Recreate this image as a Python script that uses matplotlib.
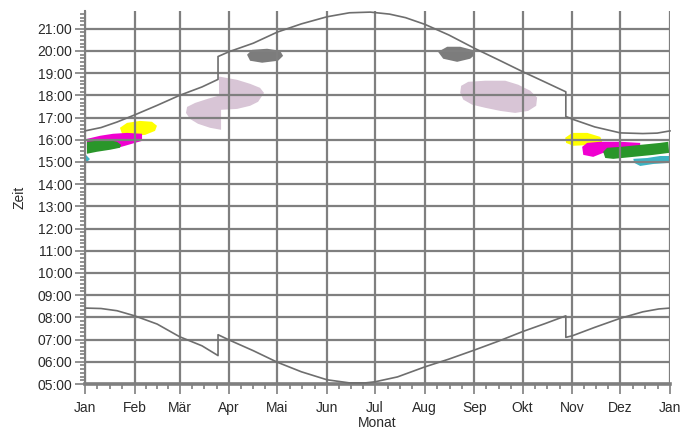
import matplotlib
matplotlib.use("Agg")
import numpy as np
import matplotlib.pyplot as plt
from matplotlib.patches import Polygon

plt.rcParams['font.family'] = ['Liberation Sans', 'DejaVu Sans']

# month starts (day of year) and labels
month_days = [0, 31, 59, 90, 120, 151, 181, 212, 243, 273, 304, 334, 365]
month_labels = ['Jan', 'Feb', 'Mär', 'Apr', 'Mai', 'Jun', 'Jul', 'Aug', 'Sep', 'Okt', 'Nov', 'Dez', 'Jan']
hours = list(range(5, 22))

# sunrise / sunset (day of year, hour), DST jumps included
rise_day = [0, 10, 20, 31, 45, 59, 73, 83, 83, 90, 105, 120, 135, 151, 165, 175, 181, 195, 212, 227,
            243, 258, 273, 287, 300, 300, 304, 318, 334, 348, 358, 365]
rise_hr = [8.42, 8.40, 8.30, 8.07, 7.70, 7.13, 6.72, 6.28, 7.22, 6.98, 6.50, 5.98, 5.55, 5.19, 5.05, 5.05,
           5.10, 5.32, 5.77, 6.12, 6.53, 6.93, 7.36, 7.72, 8.07, 7.10, 7.17, 7.55, 7.96, 8.25, 8.38, 8.42]
set_day = [0, 10, 20, 31, 45, 59, 73, 83, 83, 90, 105, 120, 135, 151, 165, 178, 190, 200, 212, 227,
           243, 258, 273, 287, 300, 300, 304, 318, 334, 348, 357, 365]
set_hr = [16.40, 16.55, 16.80, 17.12, 17.55, 18.00, 18.38, 18.72, 19.75, 19.97, 20.35, 20.85, 21.22, 21.54,
          21.72, 21.75, 21.66, 21.50, 21.20, 20.72, 20.12, 19.60, 19.07, 18.60, 18.16, 17.05, 16.93, 16.58,
          16.31, 16.28, 16.30, 16.40]

# shadow areas as (day, hour) outlines
mauve_spring = [(84.3, 18.84), (94.9, 18.70), (103.0, 18.52), (109.2, 18.34), (111.7, 18.11), (108.0, 17.71),
                (103.0, 17.53), (94.9, 17.39), (84.9, 17.35), (84.9, 16.45), (78.0, 16.54), (70.5, 16.72),
                (65.5, 16.94), (63.0, 17.21), (63.7, 17.48), (68.7, 17.66), (76.8, 17.85), (83.6, 17.99),
                (83.6, 18.84)]
mauve_autumn = [(234.7, 18.43), (239.1, 18.61), (249.7, 18.66), (262.2, 18.66), (270.3, 18.48), (277.8, 18.21),
                (282.1, 17.90), (281.5, 17.53), (276.5, 17.30), (268.4, 17.21), (259.1, 17.30), (249.7, 17.44),
                (241.6, 17.58), (236.0, 17.81), (234.1, 18.12)]
grey_spring = [(101.1, 19.83), (104.2, 20.05), (113.6, 20.10), (121.7, 20.01), (123.6, 19.78), (120.5, 19.56),
               (110.5, 19.47), (103.0, 19.56)]
grey_autumn = [(220.3, 19.96), (226.0, 20.19), (234.1, 20.19), (241.6, 20.05), (243.4, 19.83), (240.3, 19.65),
               (232.2, 19.51), (223.5, 19.65)]
yellow_jan = [(21.8, 16.54), (26.2, 16.76), (34.3, 16.85), (41.8, 16.81), (44.9, 16.63), (43.7, 16.40),
              (37.5, 16.22), (29.3, 16.18), (23.1, 16.27)]
magenta_jan = [(1.2, 16.04), (9.4, 16.18), (17.5, 16.27), (26.2, 16.31), (35.6, 16.27), (35.6, 15.95),
               (31.2, 15.86), (25.0, 15.73), (20.6, 15.64), (10.0, 15.55), (1.2, 15.60)]
green_jan = [(1.2, 15.91), (13.7, 16.00), (20.0, 15.91), (22.5, 15.77), (21.8, 15.64), (15.6, 15.55),
             (7.5, 15.46), (1.2, 15.37)]
cyan_jan = [(0.6, 15.32), (3.1, 15.13), (0.6, 14.96)]
yellow_nov = [(299.6, 16.09), (304.0, 16.31), (313.4, 16.31), (321.5, 16.13), (322.7, 15.91), (317.1, 15.77),
              (304.6, 15.73), (300.2, 15.86)]
magenta_nov = [(310.2, 15.68), (313.3, 15.86), (321.5, 15.91), (334.0, 15.91), (346.4, 15.86), (346.4, 15.46),
               (323.3, 15.41), (317.1, 15.23), (310.9, 15.32)]
cyan_dec = [(342.1, 15.14), (350.8, 15.18), (358.9, 15.27), (364.5, 15.27), (364.5, 14.96), (354.6, 14.91),
            (346.4, 14.82), (342.7, 14.96)]
green_dec = [(323.3, 15.46), (325.8, 15.64), (334.0, 15.68), (346.4, 15.77), (358.9, 15.86), (363.9, 15.91),
             (364.5, 15.41), (354.6, 15.32), (342.1, 15.23), (329.6, 15.14), (324.6, 15.18)]

shadows = [
    (mauve_spring, '#d8c5d6'), (mauve_autumn, '#d8c5d6'),
    (grey_spring, '#7c7c7c'), (grey_autumn, '#7c7c7c'),
    (yellow_jan, '#ffff00'), (magenta_jan, '#f000d0'), (green_jan, '#2a962a'), (cyan_jan, '#3cb4c4'),
    (yellow_nov, '#ffff00'), (magenta_nov, '#f000d0'), (cyan_dec, '#3cb4c4'), (green_dec, '#2a962a'),
]

fig = plt.figure(figsize=(6.95, 4.32), dpi=100)
ax = fig.add_axes([85 / 695, 1 - 384 / 432, 585 / 695, 373 / 432])

gray = '#7f7f7f'
for pts, col in shadows:
    ax.add_patch(Polygon(pts, closed=True, facecolor=col, edgecolor='none', zorder=1))

ax.plot(rise_day, rise_hr, color='#6e6e6e', lw=1.2, zorder=3)
ax.plot(set_day, set_hr, color='#6e6e6e', lw=1.2, zorder=3, clip_on=False)

ax.set_xlim(0, 365)
ax.set_ylim(5, 21.8)

minor_x = []
for a, b in zip(month_days[:-1], month_days[1:]):
    minor_x += [a + (b - a) * k / 4 for k in (1, 2, 3)]
ax.set_xticks(month_days)
ax.set_xticklabels(month_labels)
ax.set_xticks(minor_x, minor=True)
ax.set_yticks(hours)
ax.set_yticklabels(['%02d:00' % h for h in hours])
ax.set_yticks(np.arange(5, 21.8, 1 / 6), minor=True)

ax.grid(True, which='major', color=gray, lw=1.6)
ax.tick_params(which='major', length=7, width=1.2, color=gray, labelsize=10, labelcolor='#2a2a2a', pad=2)
ax.tick_params(axis='x', which='major', pad=5)
ax.tick_params(which='minor', length=3.5, width=1.2, color=gray)

for s in ('top', 'right'):
    ax.spines[s].set_visible(False)
ax.spines['left'].set_color(gray)
ax.spines['left'].set_linewidth(1.5)
ax.spines['bottom'].set_color(gray)
ax.spines['bottom'].set_linewidth(2.6)

ax.set_xlabel('Monat', fontsize=10, color='#2a2a2a', labelpad=1)
ax.set_ylabel('Zeit', fontsize=10, color='#2a2a2a', labelpad=8)

fig.savefig('out.png', dpi=100)
